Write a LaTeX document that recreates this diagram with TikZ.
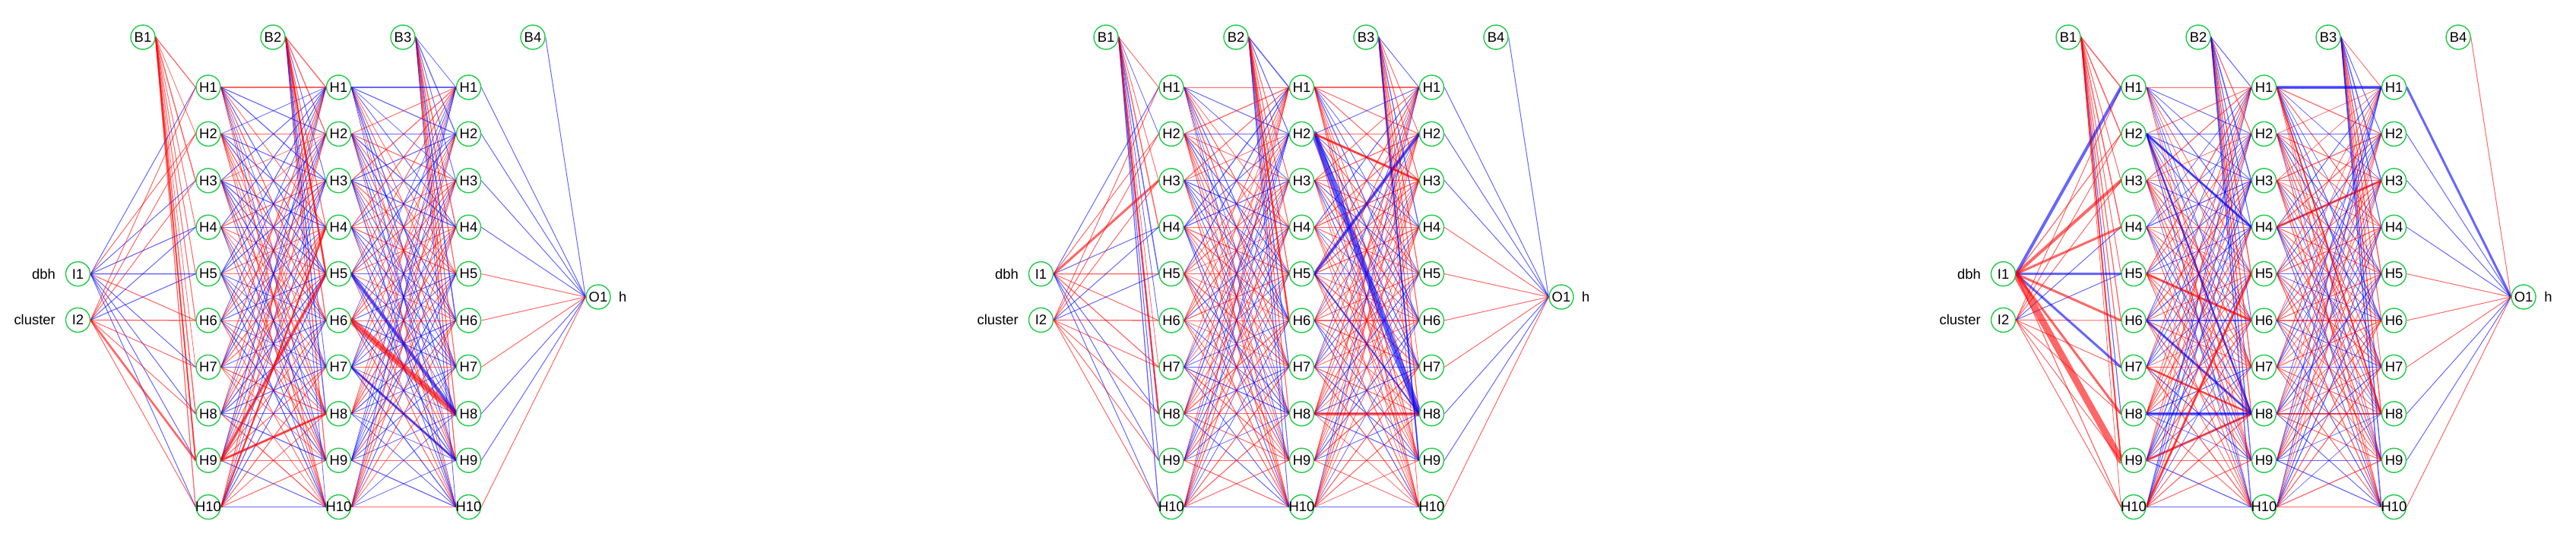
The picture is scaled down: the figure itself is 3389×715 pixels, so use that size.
\documentclass[tikz,border=0pt]{standalone}
\usepackage{fontspec}
\setmainfont{Liberation Sans}
\usetikzlibrary{backgrounds}
\definecolor{ngreen}{RGB}{30,205,70}
\definecolor{ered}{RGB}{255,0,0}
\definecolor{eblue}{RGB}{0,0,255}
\tikzset{
  nn/.style={circle, draw=ngreen, fill=white, line width=1.4bp, minimum size=32bp, inner sep=0pt, font=\fontsize{18.5}{18.5}\selectfont},
  lab/.style={inner sep=0pt, font=\fontsize{18.5}{18.5}\selectfont},
  ec/.style={draw opacity=0.6, line cap=round},
}
\newcommand\mknodes[2]{%
 \begin{scope}[xshift=#2bp]
  \node[nn] (#1I1) at (102.5,360.7) {I1};
  \node[nn] (#1I2) at (102.5,421.4) {I2};
  \node[lab, anchor=east] (#1dbh) at (73,360.7) {dbh};
  \node[lab, anchor=east] (#1cl) at (73,421.4) {cluster};
  \node[nn] (#1O1) at (787,391) {O1};
  \node[lab, anchor=west] (#1h) at (814,391) {h};
  \foreach \kk/\bx in {1/188,2/359,3/530,4/701} \node[nn] (#1B\kk) at (\bx,49) {B\kk};
  \foreach \lay/\lx in {1/274,2/445.5,3/616.5}
    \foreach \i in {1,...,10} \node[nn] (#1L\lay H\i) at (\lx,{115+(\i-1)*61.4}) {\makebox[0pt]{H\i}};
 \end{scope}}
% random hidden-to-hidden edges: prefix, from, to, red probability
\newcommand\randedges[4]{%
 \foreach \i in {1,...,10}{\foreach \j in {1,...,10}{
   \pgfmathtruncatemacro\kk{rnd<#4}
   \pgfmathsetmacro\ww{0.7+0.6*rnd}
   \ifnum\kk=1 \def\cc{ered}\else\def\cc{eblue}\fi
   \draw[ec, draw=\cc, line width=\ww bp] (#1L#2H\i.east) -- (#1L#3H\j.west);
 }}}
% random bias edges: prefix, bias/layer index, red probability
\newcommand\randbias[3]{%
 \foreach \j in {1,...,10}{
   \pgfmathtruncatemacro\kk{rnd<#3}
   \pgfmathsetmacro\ww{0.8+0.8*rnd}
   \ifnum\kk=1 \def\cc{ered}\else\def\cc{eblue}\fi
   \draw[ec, draw=\cc, line width=\ww bp] (#1B#2.east) -- (#1L#2H\j.west);
 }}
\newcommand\edgelist[1]{%
 \foreach \s/\t/\cc/\ww in {#1} \draw[ec, draw=\cc, line width=\ww bp] (\s.east) -- (\t.west);}
\begin{document}
\begin{tikzpicture}[x=1bp, y=-1bp]
\useasboundingbox (0,0) rectangle (3389,715);
\mknodes{a}{0}
\mknodes{b}{1267}
\mknodes{c}{2533}
\begin{scope}[on background layer]
\fill[white] (0,0) rectangle (3389,715);
\pgfmathsetseed{4242}
% ---------------- network a ----------------
\randbias{a}{1}{0.6}
\randbias{a}{2}{0.55}
\randbias{a}{3}{0.35}
\randedges{a}{1}{2}{0.5}
\randedges{a}{2}{3}{0.5}
\edgelist{aI1/aL1H1/eblue/1, aI1/aL1H2/ered/1, aI1/aL1H3/eblue/1, aI1/aL1H4/eblue/1.1, aI1/aL1H5/eblue/1.5,
 aI1/aL1H6/ered/1.1, aI1/aL1H7/eblue/1, aI1/aL1H8/eblue/1, aI1/aL1H9/eblue/1, aI1/aL1H10/eblue/1,
 aI2/aL1H1/ered/1, aI2/aL1H2/ered/1, aI2/aL1H3/ered/1, aI2/aL1H4/eblue/1, aI2/aL1H5/eblue/1.1,
 aI2/aL1H6/ered/1.3, aI2/aL1H7/ered/1, aI2/aL1H8/ered/1, aI2/aL1H9/ered/2.6, aI2/aL1H10/ered/1}
\edgelist{aL3H1/aO1/eblue/1, aL3H2/aO1/eblue/1, aL3H3/aO1/eblue/1, aL3H4/aO1/eblue/1, aL3H5/aO1/ered/1,
 aL3H6/aO1/ered/1, aL3H7/aO1/ered/1, aL3H8/aO1/eblue/1, aL3H9/aO1/eblue/1, aL3H10/aO1/ered/1, aB4/aO1/eblue/1}
\edgelist{aL1H9/aL2H5/ered/4, aL1H9/aL2H8/ered/3, aL2H6/aL3H8/ered/8, aL2H5/aL3H8/eblue/4.5,
 aL2H7/aL3H9/eblue/3, aB2/aL2H5/ered/2.5, aB1/aL1H9/ered/2, aL1H10/aL2H4/ered/2.2}
% ---------------- network b ----------------
\randbias{b}{1}{0.65}
\randbias{b}{2}{0.6}
\randbias{b}{3}{0.35}
\randedges{b}{1}{2}{0.58}
\randedges{b}{2}{3}{0.55}
\edgelist{bI1/bL1H1/eblue/1, bI1/bL1H2/ered/1, bI1/bL1H3/ered/3, bI1/bL1H4/eblue/1, bI1/bL1H5/ered/1.3,
 bI1/bL1H6/ered/1, bI1/bL1H7/ered/1.2, bI1/bL1H8/eblue/1, bI1/bL1H9/eblue/1, bI1/bL1H10/eblue/1,
 bI2/bL1H1/ered/1, bI2/bL1H2/ered/1, bI2/bL1H3/ered/1, bI2/bL1H4/eblue/1, bI2/bL1H5/eblue/1,
 bI2/bL1H6/ered/1.3, bI2/bL1H7/ered/1, bI2/bL1H8/ered/1, bI2/bL1H9/ered/1, bI2/bL1H10/ered/1}
\edgelist{bL3H1/bO1/eblue/1, bL3H2/bO1/eblue/1, bL3H3/bO1/eblue/1, bL3H4/bO1/ered/1, bL3H5/bO1/ered/1,
 bL3H6/bO1/ered/1, bL3H7/bO1/ered/1, bL3H8/bO1/eblue/1, bL3H9/bO1/eblue/1, bL3H10/bO1/ered/1, bB4/bO1/eblue/1}
\edgelist{bL2H2/bL3H8/eblue/8, bL2H5/bL3H2/eblue/4, bL2H2/bL3H3/ered/3, bL2H8/bL3H8/ered/4.5,
 bB1/bL1H8/ered/2.5, bB2/bL2H6/ered/2.5, bB3/bL3H9/eblue/2, bL2H5/bL3H8/eblue/2}
% ---------------- network c ----------------
\randbias{c}{1}{0.7}
\randbias{c}{2}{0.6}
\randbias{c}{3}{0.3}
\randedges{c}{1}{2}{0.6}
\randedges{c}{2}{3}{0.55}
\edgelist{cI2/cL1H1/ered/1, cI2/cL1H2/ered/1, cI2/cL1H3/ered/1, cI2/cL1H4/eblue/1, cI2/cL1H5/eblue/1,
 cI2/cL1H6/ered/1, cI2/cL1H7/ered/1, cI2/cL1H8/ered/1, cI2/cL1H9/ered/1, cI2/cL1H10/ered/1,
 cI1/cL1H2/ered/1.2, cI1/cL1H10/ered/1.2}
\edgelist{cL3H1/cO1/eblue/3, cL3H2/cO1/eblue/1, cL3H3/cO1/eblue/1, cL3H4/cO1/eblue/1, cL3H5/cO1/ered/1,
 cL3H6/cO1/ered/1, cL3H7/cO1/ered/1, cL3H8/cO1/eblue/1, cL3H9/cO1/eblue/1, cL3H10/cO1/ered/1, cB4/cO1/ered/1}
\edgelist{cI1/cL1H1/eblue/4, cI1/cL1H3/ered/4, cI1/cL1H4/ered/3, cI1/cL1H5/eblue/3, cI1/cL1H6/ered/3,
 cI1/cL1H7/eblue/3, cI1/cL1H8/ered/3, cI1/cL1H9/ered/9,
 cL1H2/cL2H4/eblue/3, cL1H8/cL2H8/eblue/4, cL1H9/cL2H8/ered/3, cL1H7/cL2H8/ered/2.5, cL1H5/cL2H6/ered/3,
 cL1H6/cL2H8/eblue/3, cL1H10/cL2H5/ered/3, cL1H2/cL2H8/eblue/2.5,
 cL2H1/cL3H1/eblue/3.5, cL2H4/cL3H3/ered/3, cL2H8/cL3H8/ered/2.5, cL2H1/cL3H8/ered/2, cB1/cL1H9/ered/2}
\end{scope}
\end{tikzpicture}
\end{document}
